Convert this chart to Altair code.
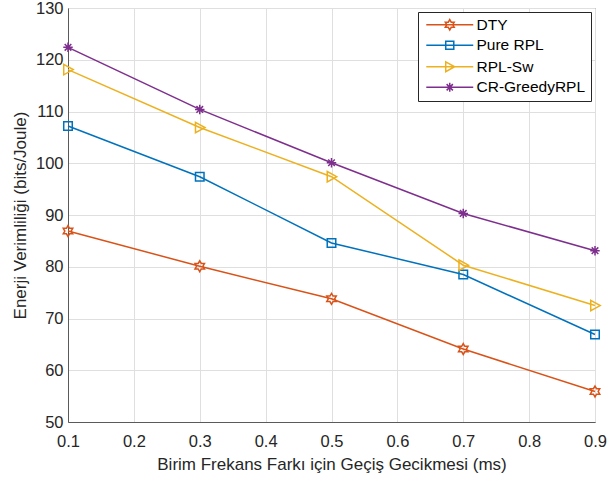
import altair as alt
import pandas as pd
import re

x_vals = [0.1, 0.3, 0.5, 0.7, 0.9]
series = ["DTY", "Pure RPL", "RPL-Sw", "CR-GreedyRPL"]
dty = [86.9, 80.1, 73.8, 64.1, 55.9]
pure_rpl = [107.2, 97.4, 84.6, 78.5, 66.9]
rpl_sw = [118.1, 106.9, 97.4, 80.3, 72.5]
cr_greedy = [122.4, 110.4, 100.1, 90.3, 83.1]
colors = ["#D95319", "#0072BD", "#EDB120", "#7E2F8E"]

x_ticks = [0.1, 0.2, 0.3, 0.4, 0.5, 0.6, 0.7, 0.8, 0.9]
y_ticks = [50, 60, 70, 80, 90, 100, 110, 120, 130]

# marker glyphs (unit paths)
hexagram = ("M0,-1.15L0.33,-0.58L1,-0.58L0.67,0L1,0.58L0.33,0.58L0,1.15"
            "L-0.33,0.58L-1,0.58L-0.67,0L-1,-0.58L-0.33,-0.58Z")
square = "M-0.9,-0.9L0.9,-0.9L0.9,0.9L-0.9,0.9Z"
tri_right = "M-0.9,-1.1L1.1,0L-0.9,1.1Z"
asterisk = "M0,-1L0,1M-1,0L1,0M-0.7,-0.7L0.7,0.7M-0.7,0.7L0.7,-0.7"
markers = [hexagram, square, tri_right, asterisk]


def shift(path, dx):
    out = []
    tokens = re.findall(r"[MLZ]|-?\d*\.?\d+", path)
    i = 0
    while i < len(tokens):
        t = tokens[i]
        if t in ("M", "L"):
            out.append(f"{t}{float(tokens[i+1]) + dx:.2f},{tokens[i+2]}")
            i += 3
        else:
            out.append(t)
            i += 1
    return "".join(out)


legend_paths = ["M-1,0L9.5,0" + shift(m, 4.25) for m in markers]

rows = []
for name, vals in zip(series, [dty, pure_rpl, rpl_sw, cr_greedy]):
    for x, v in zip(x_vals, vals):
        rows.append({"x": x, "y": v, "series": name})
df = pd.DataFrame(rows)

font = "Liberation Sans"
axis_color = "#5a5a5a"
text_color = "#262626"

xenc = alt.X("x:Q", scale=alt.Scale(domain=[0.1, 0.9], nice=False, zero=False),
             axis=alt.Axis(values=x_ticks, format=".1f",
                           title="Birim Frekans Farkı için Geçiş Gecikmesi (ms)",
                           labelFlush=False, labelOverlap=False, ticks=False,
                           labelPadding=11, titlePadding=7))
yenc = alt.Y("y:Q", scale=alt.Scale(domain=[50, 130], nice=False, zero=False),
             axis=alt.Axis(values=y_ticks, title="Enerji Verimliliği (bits/Joule)",
                           labelFlush=False, labelOverlap=False, ticks=False,
                           labelPadding=5, titlePadding=6))
color_scale = alt.Scale(domain=series, range=colors)
leg = alt.Legend(title=None, orient="top-right", offset=4)
color_enc = alt.Color("series:N", scale=color_scale, legend=leg)

base = alt.Chart(df)

lines = base.mark_line(strokeWidth=1.5).encode(
    x=xenc, y=yenc, color=color_enc, detail="series:N",
)

point_layers = []
for name, m in zip(series, markers):
    point_layers.append(
        base.transform_filter(alt.datum.series == name).mark_point(
            shape=m, filled=False, size=90, strokeWidth=1.5, opacity=1
        ).encode(x=xenc, y=yenc, color=color_enc)
    )

legend_layer = base.mark_point(filled=False, size=80, strokeWidth=1.5, opacity=0).encode(
    x=xenc, y=yenc,
    color=color_enc,
    shape=alt.Shape("series:N", scale=alt.Scale(domain=series, range=legend_paths),
                    legend=leg),
)

chart = alt.layer(lines, *point_layers, legend_layer).properties(
    width=527, height=414,
    padding={"left": 68, "top": 8, "right": 13, "bottom": 57},
    autosize=alt.AutoSizeParams(type="none"),
).configure(
    font=font,
    background="white",
).configure_view(
    stroke=axis_color, strokeWidth=1,
).configure_axis(
    domainColor=axis_color, domainWidth=1,
    gridColor="#dfdfdf", gridWidth=1,
    labelColor=text_color, labelFontSize=16.5, labelFont=font,
    titleColor=text_color, titleFontSize=17, titleFont=font, titleFontWeight="normal",
).configure_legend(
    strokeColor="#262626", fillColor="white", padding=5, cornerRadius=0,
    labelFontSize=15.5, labelColor="#000000", labelFont=font,
    symbolSize=80, symbolStrokeWidth=1.5, symbolOpacity=1,
    labelOffset=38, rowPadding=3.5,
)

chart.save("out.html", embed_options={"renderer": "svg", "actions": False})
